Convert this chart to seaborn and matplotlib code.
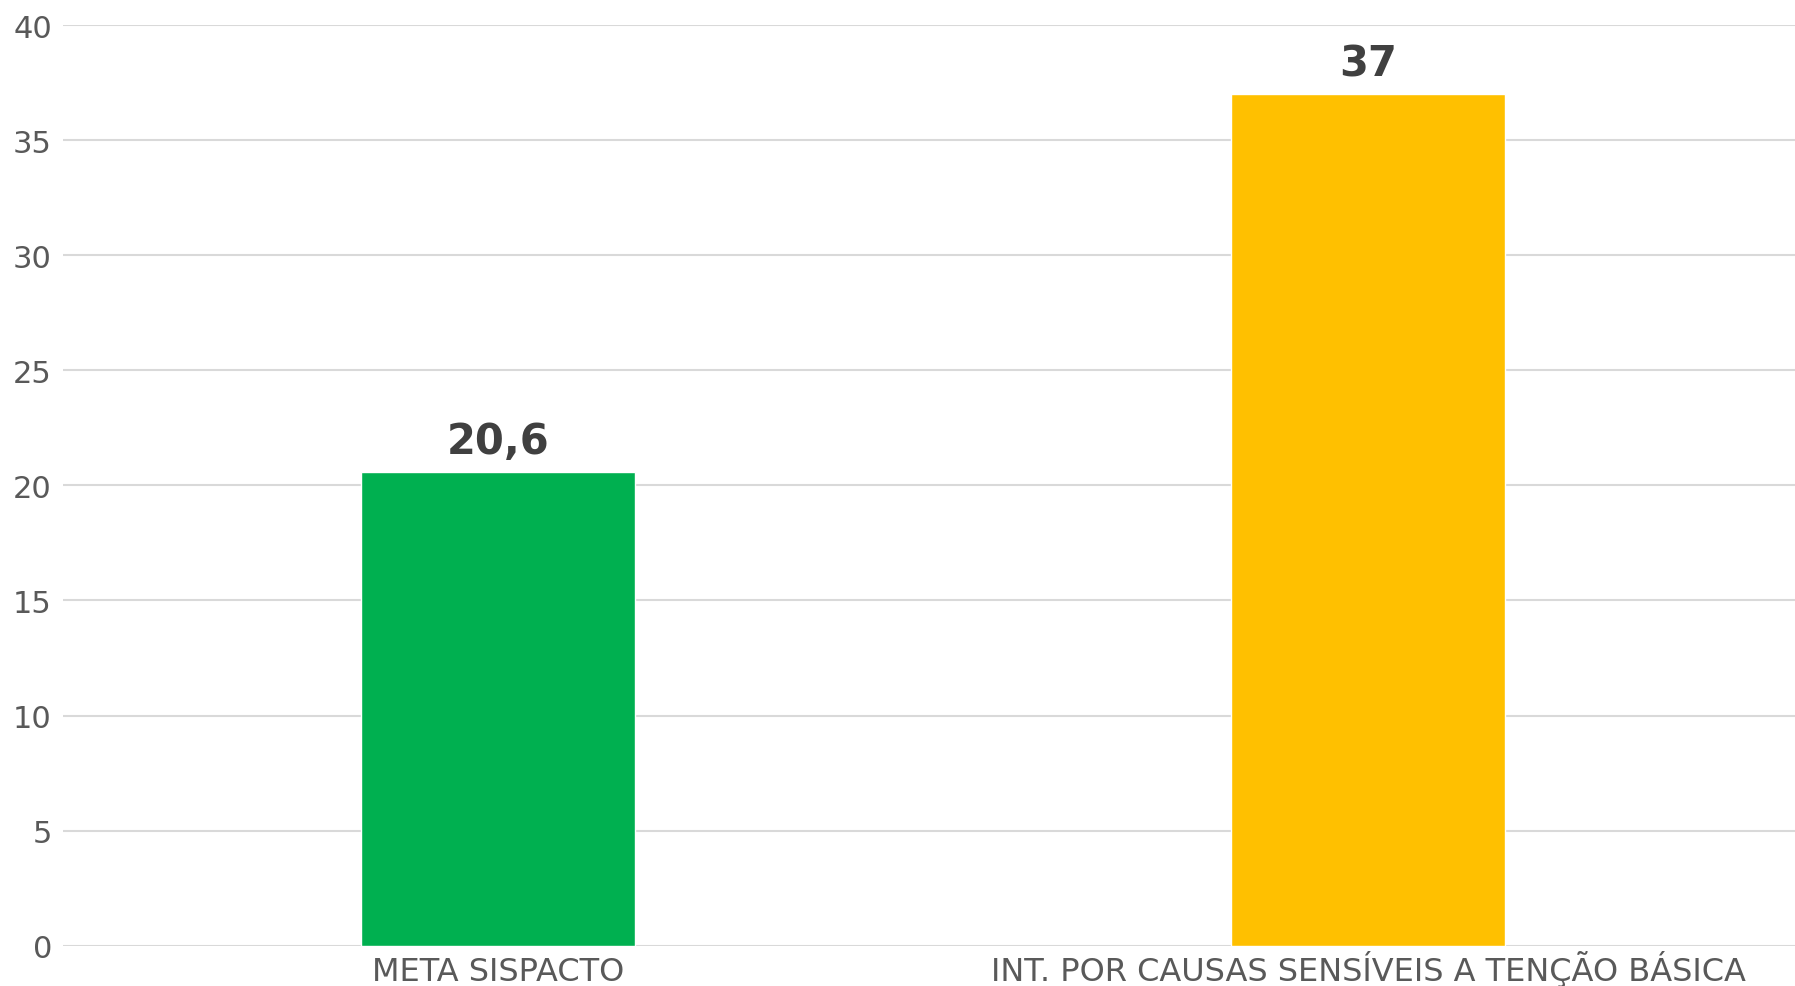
import matplotlib
matplotlib.use("Agg")
import matplotlib.pyplot as plt
import seaborn as sns
import pandas as pd

categories = ["META SISPACTO", "INT. POR CAUSAS SENSÍVEIS A TENÇÃO BÁSICA"]
values = [20.6, 37]
value_labels = ["20,6", "37"]
colors = ["#00B050", "#FFC000"]
yticks = [0, 5, 10, 15, 20, 25, 30, 35, 40]

sns.set_theme(style="white")
plt.rcParams['font.family'] = ['DejaVu Sans']

df = pd.DataFrame({"cat": categories, "val": values})

fig = plt.figure(figsize=(17.95, 9.87), dpi=100)
ax = fig.add_axes([63/1795, 1-946.7/987, (1803-63)/1795, (946.7-26)/987])

sns.barplot(data=df, x="cat", y="val", hue="cat", palette=colors,
            width=0.314, saturation=1, legend=False, ax=ax, zorder=3)

ax.set_ylim(0, 40)
ax.set_xlim(-0.5, 1.5)
ax.set_yticks(yticks)
ax.set_yticklabels([str(t) for t in yticks])
ax.yaxis.grid(True, color="#D9D9D9", linewidth=1.5, zorder=0)
ax.set_axisbelow(True)
for s in ax.spines.values():
    s.set_visible(False)
ax.tick_params(axis="y", length=0, labelsize=22, labelcolor="#595959", pad=8)
ax.tick_params(axis="x", length=0, labelsize=23, labelcolor="#595959", pad=24.5)
for t in ax.get_xticklabels():
    t.set_verticalalignment("baseline")
ax.set_xlabel("")
ax.set_ylabel("")

for i, (v, lab) in enumerate(zip(values, value_labels)):
    ax.annotate(lab, (i, v), xytext=(0, 7), textcoords="offset points",
                ha="center", va="bottom", fontsize=30, fontweight="bold",
                color="#404040")

fig.savefig("out.png", dpi=100, facecolor="white")
